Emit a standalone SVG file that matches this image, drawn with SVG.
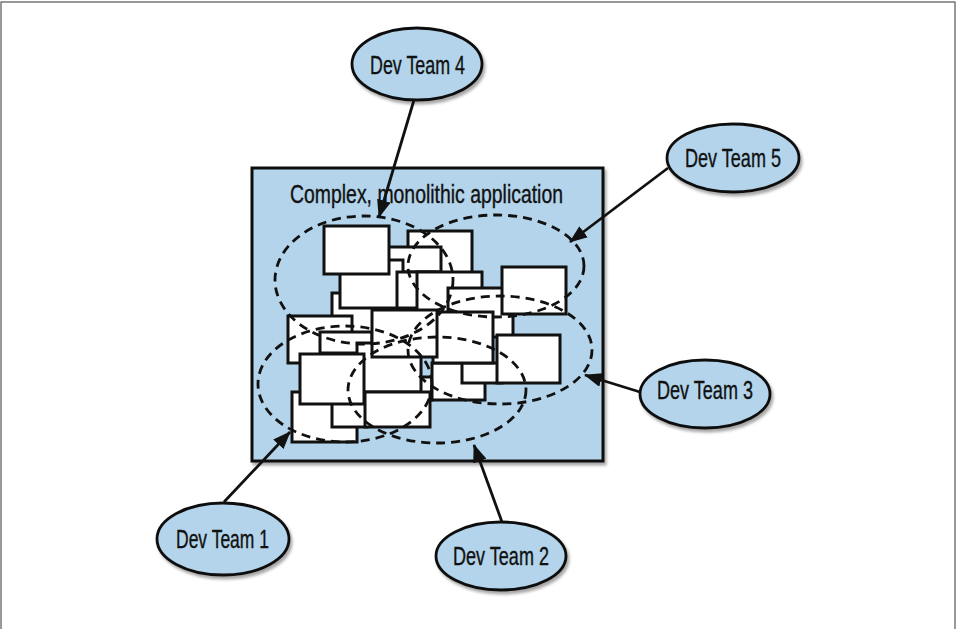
<svg xmlns="http://www.w3.org/2000/svg" width="957" height="629" viewBox="0 0 957 629">
<style>
.frame{fill:none;stroke:#555;stroke-width:1.2}
.app{fill:#b3d4ea;stroke:#111;stroke-width:3}
.team{fill:#b3d4ea;stroke:#111;stroke-width:2.8}
.mod{fill:#fff;stroke:#111;stroke-width:3}
.zone{fill:none;stroke:#111;stroke-width:2.8;stroke-dasharray:9 6}
.lbl{font-family:"Liberation Sans",Arial,sans-serif;font-size:25px;fill:#111;stroke:#111;stroke-width:0.35}
.conn{stroke:#111;stroke-width:2.8;fill:none}
</style>
<defs>
<filter id="sh" x="-10%" y="-10%" width="130%" height="130%">
<feDropShadow dx="2" dy="3" stdDeviation="1.8" flood-color="#000" flood-opacity="0.35"/>
</filter>
<marker id="arr" markerUnits="userSpaceOnUse" markerWidth="18" markerHeight="14" refX="17" refY="7" orient="auto">
<path d="M0,0 L18,7 L0,14 z" fill="#111"/>
</marker>
</defs>
<rect x="0" y="0" width="957" height="629" fill="#fff"/>
<rect class="frame" x="1" y="2" width="954" height="640"/>

<g id="app">
<rect class="app" x="252" y="168" width="351" height="293" filter="url(#sh)"/>
<text class="lbl" x="290" y="203" textLength="273" lengthAdjust="spacingAndGlyphs">Complex, monolithic application</text>
<g id="modules">
<rect class="mod" x="408" y="231" width="64" height="42"/>
<rect class="mod" x="388" y="247" width="53" height="25"/>
<rect class="mod" x="332" y="293" width="53" height="47"/>
<rect class="mod" x="340" y="260" width="63" height="48"/>
<rect class="mod" x="324" y="226" width="65" height="48"/>
<rect class="mod" x="397" y="272" width="40" height="36"/>
<rect class="mod" x="417" y="272" width="65" height="46"/>
<rect class="mod" x="448" y="288" width="65" height="49"/>
<rect class="mod" x="502" y="267" width="64" height="47"/>
<rect class="mod" x="288" y="316" width="64" height="47"/>
<rect class="mod" x="320" y="332" width="52" height="21"/>
<rect class="mod" x="400" y="377" width="32" height="23"/>
<rect class="mod" x="432" y="363" width="53" height="37"/>
<rect class="mod" x="462" y="363" width="40" height="20"/>
<rect class="mod" x="497" y="335" width="63" height="48"/>
<rect class="mod" x="433" y="312" width="60" height="51"/>
<rect class="mod" x="357" y="343" width="64" height="49"/>
<rect class="mod" x="372" y="310" width="65" height="47"/>
<rect class="mod" x="292" y="392" width="65" height="50"/>
<rect class="mod" x="332" y="395" width="35" height="32"/>
<rect class="mod" x="300" y="354" width="64" height="50"/>
<rect class="mod" x="365" y="392" width="65" height="35"/>
</g>
<g id="zones">
<ellipse class="zone" cx="364" cy="280" rx="89" ry="64"/>
<ellipse class="zone" cx="496" cy="266" rx="88" ry="51"/>
<ellipse class="zone" cx="500" cy="350" rx="92" ry="54"/>
<ellipse class="zone" cx="437" cy="390" rx="89" ry="53"/>
<ellipse class="zone" cx="345" cy="384" rx="87" ry="58"/>
</g>
</g>

<g id="team4">
<ellipse class="team" cx="417" cy="64" rx="65" ry="36" filter="url(#sh)"/>
<text class="lbl" x="370" y="74" textLength="95" lengthAdjust="spacingAndGlyphs">Dev Team 4</text>
</g>
<g id="team5">
<ellipse class="team" cx="733" cy="158" rx="66" ry="34" filter="url(#sh)"/>
<text class="lbl" x="685" y="167" textLength="96" lengthAdjust="spacingAndGlyphs">Dev Team 5</text>
</g>
<g id="team3">
<ellipse class="team" cx="705" cy="394" rx="65" ry="34" filter="url(#sh)"/>
<text class="lbl" x="657" y="399" textLength="96" lengthAdjust="spacingAndGlyphs">Dev Team 3</text>
</g>
<g id="team1">
<ellipse class="team" cx="223" cy="539" rx="66" ry="36" filter="url(#sh)"/>
<text class="lbl" x="176" y="548" textLength="93" lengthAdjust="spacingAndGlyphs">Dev Team 1</text>
</g>
<g id="team2">
<ellipse class="team" cx="501" cy="556" rx="65" ry="34" filter="url(#sh)"/>
<text class="lbl" x="453" y="565" textLength="96" lengthAdjust="spacingAndGlyphs">Dev Team 2</text>
</g>

<g id="connectors">
<line class="conn" x1="414" y1="100" x2="379" y2="217" marker-end="url(#arr)"/>
<line class="conn" x1="668" y1="168" x2="570" y2="242" marker-end="url(#arr)"/>
<line class="conn" x1="640" y1="392" x2="585" y2="375" marker-end="url(#arr)"/>
<line class="conn" x1="224" y1="502" x2="290" y2="432" marker-end="url(#arr)"/>
<line class="conn" x1="502" y1="522" x2="474" y2="445" marker-end="url(#arr)"/>
</g>
</svg>
